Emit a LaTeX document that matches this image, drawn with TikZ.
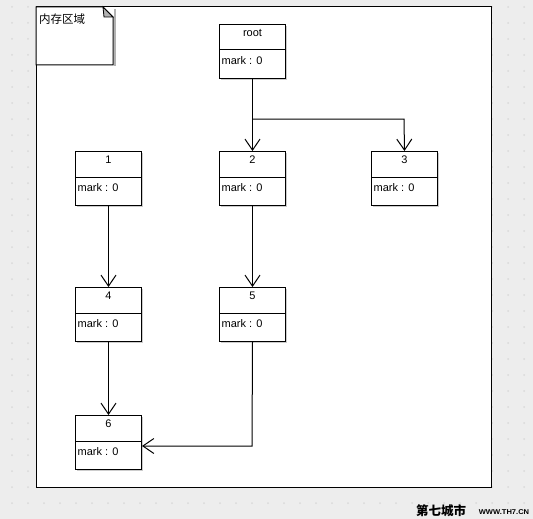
\documentclass[tikz,border=0pt]{standalone}
\usepackage{fontspec}
\setmainfont{Liberation Sans}
\newfontfamily\cjk{Noto Sans CJK SC}
\usetikzlibrary{arrows.meta}
\tikzset{
  umlbox/.style={draw=black, fill=white, line width=1pt, minimum width=66pt, minimum height=54pt, inner sep=0pt},
  conn/.style={draw=black, line width=1pt, -{Straight Barb[length=11pt,width=15pt,line width=1pt]}},
  lbl/.style={font=\fontsize{11}{12}\selectfont, inner sep=0pt},
}
\newcommand\umlbox[4]{%
  \fill[black!20] (#2+2,#3+2) rectangle (#2+68,#3+56);
  \node[umlbox, anchor=north west] (#1) at (#2,#3) {};
  \draw[line width=1pt] ([yshift=-26pt]#1.north west) -- ([yshift=-26pt]#1.north east);
  \node[lbl] (#1t) at ([yshift=-9pt]#1.north) {#4};
  \node[lbl, anchor=west] (#1m) at ([xshift=2.5pt,yshift=-37pt]#1.north west) {mark : 0};
}
\begin{document}
\begin{tikzpicture}[x=1pt,y=-1pt]
\useasboundingbox (0,0) rectangle (533,519);
\fill[black!7] (0,0) rectangle (533,519);
\foreach \i in {12,28,...,532} \foreach \j in {7,23,...,518} \fill[black!15] (\i,\j) circle (1pt);
% frame
\draw[fill=white, line width=1pt] (36,7) rectangle (491,487);
% note tab
\fill[black!30] (114,9) rectangle (115.5,66.5);
\draw[fill=white, line width=1pt] (36,7) -- (103,7) -- (113,17) -- (113,65) -- (36,65) -- cycle;
\draw[fill=black!30, line width=0.8pt] (103,7) -- (113,17) -- (104,17) -- cycle;
\node[anchor=west, inner sep=0pt, font=\cjk\fontsize{11.5}{13}\selectfont] (area) at (39,19) {内存区域};
% boxes
\umlbox{root}{219}{24}{root}
\umlbox{b1}{75}{151}{1}
\umlbox{b2}{219}{151}{2}
\umlbox{b3}{371}{151}{3}
\umlbox{b4}{75}{287}{4}
\umlbox{b5}{219}{287}{5}
\umlbox{b6}{75}{415}{6}
% connectors
\coordinate (j1) at (252,119);
\coordinate (j2) at (404,119);
\coordinate (j3) at (252,446);
\draw[conn] (root.south) -- (b2.north);
\draw[conn] (j1) -- (j2) -- (b3.north);
\draw[conn] (b1.south) -- (b4.north);
\draw[conn] (b2.south) -- (b5.north);
\draw[conn] (b4.south) -- (b6.north);
\draw[conn] (b5.south) -- (j3) -- (b6.east |- j3);
% watermark
\node[inner sep=0pt, font=\cjk\bfseries\fontsize{12.5}{14}\selectfont] (wm1) at (441,511) {第七城市};
\node[inner sep=0pt, font=\bfseries\fontsize{7}{8}\selectfont, xscale=1.08] (wm2) at (504,512) {WWW.TH7.CN};
\end{tikzpicture}
\end{document}
